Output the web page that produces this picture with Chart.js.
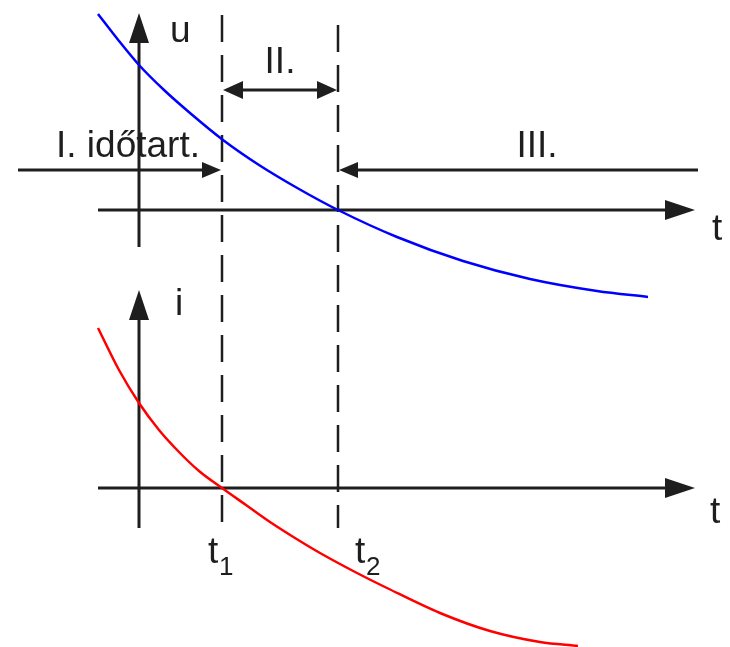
<!DOCTYPE html>
<html>
<head>
<meta charset="utf-8">
<script src="https://cdn.jsdelivr.net/npm/chart.js@4/dist/chart.umd.min.js"></script>
<style>
  html, body { margin: 0; padding: 0; background: #fff; }
  #wrap { width: 730px; height: 647px; position: relative; }
</style>
</head>
<body>
<div id="wrap"><canvas id="chart-diagram"></canvas></div>
<script>
// voltage curve u(t)
const tU = [-0.41, -0.2, 0, 0.25, 0.51, 0.84, 1.2, 1.6, 1.99, 2.58, 3.24, 3.91, 4.58, 5.09];
const uVals = [1.96, 1.69, 1.45, 1.20, 0.97, 0.70, 0.45, 0.21, 0, -0.27, -0.51, -0.69, -0.81, -0.87];

// current curve i(t)
const tI = [-0.41, -0.2, 0, 0.2, 0.4, 0.6, 0.83, 1.07, 1.31, 1.56, 1.81, 2.18, 2.48, 3.01, 3.51, 4.01, 4.39];
const iVals = [1.60, 1.18, 0.85, 0.58, 0.36, 0.17, 0, -0.17, -0.34, -0.50, -0.65, -0.85, -1.00, -1.25, -1.43, -1.54, -1.58];

// switching instants
const tMarks = [0.83, 1.99];
const tMarkLabels = ['1', '2'];
const intervalLabels = ['I. időtart.', 'II.', 'III.'];

const FONT = '"Liberation Sans", Arial, sans-serif';
const INK = '#1e1e1e';

window.addEventListener('DOMContentLoaded', () => {
  const ctx = document.getElementById('chart-diagram');

  function head(c, x, y, dx, dy, len, half) {
    c.beginPath();
    c.moveTo(x, y);
    c.lineTo(x - dx * len - dy * half, y - dy * len + dx * half);
    c.lineTo(x - dx * len + dy * half, y - dy * len - dx * half);
    c.closePath();
    c.fill();
  }

  function line(c, x1, y1, x2, y2) {
    c.beginPath();
    c.moveTo(x1, y1);
    c.lineTo(x2, y2);
    c.stroke();
  }

  const diagram = {
    id: 'diagram',
    beforeDatasetsDraw(chart) {
      const c = chart.ctx;
      const { x, yu, yi } = chart.scales;
      const px = v => x.getPixelForValue(v);
      const pu = v => yu.getPixelForValue(v);
      const pi = v => yi.getPixelForValue(v);
      const [t1, t2] = tMarks.map(px);

      c.save();
      c.strokeStyle = INK;
      c.fillStyle = INK;

      // dashed verticals at t1, t2
      c.lineWidth = 2.5;
      c.setLineDash([27, 13]);
      line(c, t1, pu(1.95), t1, pi(-0.40));
      c.lineDashOffset = -10;
      line(c, t2, pu(1.95), t2, pi(-0.40));
      c.setLineDash([]);

      // axes
      c.lineWidth = 3;
      const x0 = px(0), xl = px(-0.41), xr = px(5.56);
      line(c, x0, pu(-0.37), x0, pu(1.69));
      head(c, x0, pu(1.97), 0, -1, 30, 10);
      line(c, xl, pu(0), xr - 28, pu(0));
      head(c, xr, pu(0), 1, 0, 30, 10);

      line(c, x0, pi(-0.40), x0, pi(1.70));
      head(c, x0, pi(1.98), 0, -1, 30, 10);
      line(c, xl, pi(0), xr - 28, pi(0));
      head(c, xr, pi(0), 1, 0, 30, 10);

      // interval arrows
      const yII = pu(1.20), yI = pu(0.40);
      line(c, t1 + 15, yII, t2 - 15, yII);
      head(c, t1 + 1, yII, -1, 0, 20, 9);
      head(c, t2 - 1, yII, 1, 0, 20, 9);
      line(c, px(-1.21), yI, t1 - 15, yI);
      head(c, t1 - 1, yI, 1, 0, 19, 8);
      line(c, px(5.59), yI, t2 + 15, yI);
      head(c, t2 + 1, yI, -1, 0, 19, 8);

      // texts
      c.font = '37px ' + FONT;
      c.textBaseline = 'alphabetic';
      c.textAlign = 'left';
      c.fillText('u', px(0.31), pu(1.68));
      c.fillText('i', px(0.36), pi(1.73));
      c.fillText('t', px(5.73), pu(-0.30));
      c.fillText('t', px(5.71), pi(-0.35));
      c.textAlign = 'center';
      c.fillText(intervalLabels[0], px(-0.11), pu(0.53));
      c.fillText(intervalLabels[1], (t1 + t2) / 2, pu(1.37));
      c.fillText(intervalLabels[2], px(3.98), pu(0.53));

      c.textAlign = 'left';
      tMarks.forEach((tm, k) => {
        const lx = px(tm) + (k === 0 ? -14 : 17);
        c.font = '37px ' + FONT;
        c.fillText('t', lx, pi(-0.75));
        c.font = '26px ' + FONT;
        c.fillText(tMarkLabels[k], lx + 11, pi(-0.87));
      });
      c.restore();
    }
  };

  new Chart(ctx, {
    type: 'line',
    data: {
      datasets: [
        {
          label: 'u',
          data: tU.map((t, k) => ({ x: t, y: uVals[k] })),
          yAxisID: 'yu',
          borderColor: '#0000ff',
          borderWidth: 2.5,
          pointRadius: 0,
          cubicInterpolationMode: 'monotone'
        },
        {
          label: 'i',
          data: tI.map((t, k) => ({ x: t, y: iVals[k] })),
          yAxisID: 'yi',
          borderColor: '#ff0000',
          borderWidth: 2.5,
          pointRadius: 0,
          cubicInterpolationMode: 'monotone'
        }
      ]
    },
    options: {
      responsive: true,
      maintainAspectRatio: false,
      animation: false,
      layout: { padding: 0 },
      plugins: {
        legend: { display: false },
        tooltip: { enabled: false }
      },
      scales: {
        x: { type: 'linear', min: -1.39, max: 5.91, display: false },
        yu: { type: 'linear', min: -4.37, max: 2.10, display: false },
        yi: { type: 'linear', min: -1.59, max: 4.88, display: false }
      }
    },
    plugins: [diagram]
  });
});
</script>
</body>
</html>
